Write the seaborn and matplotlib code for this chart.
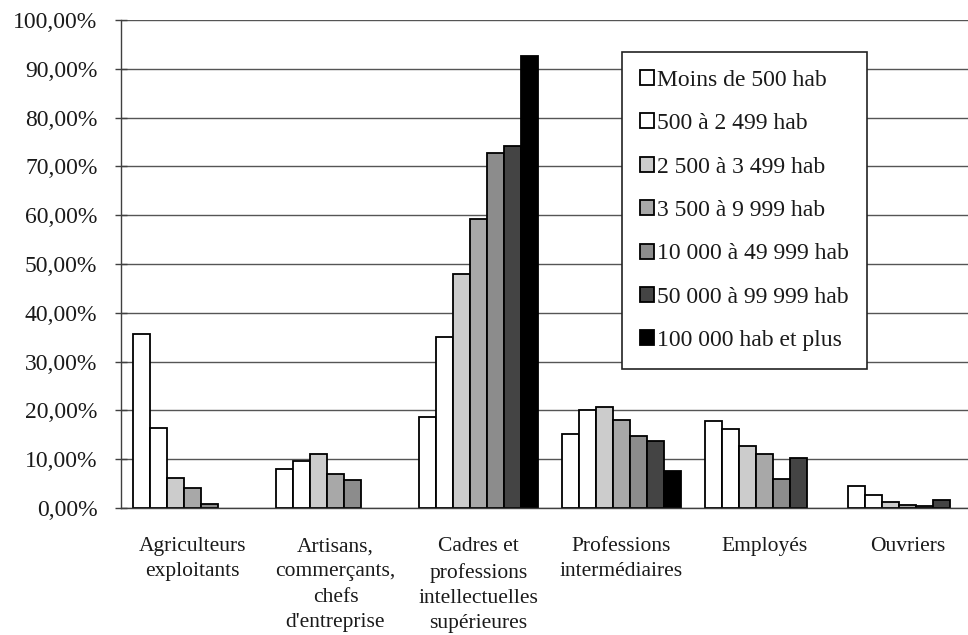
import numpy as np
import pandas as pd
import matplotlib
matplotlib.use("Agg")
import matplotlib.pyplot as plt
import seaborn as sns

# Data (share in %)
categories = [
    "Agriculteurs\nexploitants",
    "Artisans,\ncommerçants,\nchefs\nd'entreprise",
    "Cadres et\nprofessions\nintellectuelles\nsupérieures",
    "Professions\nintermédiaires",
    "Employés",
    "Ouvriers",
]
tailles = [
    "Moins de 500 hab",
    "500 à 2 499 hab",
    "2 500 à 3 499 hab",
    "3 500 à 9 999 hab",
    "10 000 à 49 999 hab",
    "50 000 à 99 999 hab",
    "100 000 hab et plus",
]
moins_500 = [35.6, 8.0, 18.7, 15.1, 17.9, 4.6]
de_500_2499 = [16.3, 9.6, 35.1, 20.1, 16.2, 2.6]
de_2500_3499 = [6.2, 11.1, 48.0, 20.7, 12.7, 1.2]
de_3500_9999 = [4.0, 6.9, 59.2, 18.1, 11.0, 0.7]
de_10000_49999 = [0.8, 5.7, 72.7, 14.7, 5.9, 0.35]
de_50000_99999 = [np.nan, np.nan, 74.2, 13.7, 10.3, 1.7]
plus_100000 = [np.nan, np.nan, 92.7, 7.5, np.nan, np.nan]

series = [moins_500, de_500_2499, de_2500_3499, de_3500_9999,
          de_10000_49999, de_50000_99999, plus_100000]
colors = ["#ffffff", "#ffffff", "#cccccc", "#a8a8a8", "#8c8c8c", "#444444", "#000000"]

rows = []
for taille, vals in zip(tailles, series):
    for cat, v in zip(categories, vals):
        rows.append({"categorie": cat, "taille": taille, "part": v})
df = pd.DataFrame(rows).dropna()

sns.set_style("white")
plt.rcParams["font.family"] = ["Liberation Serif", "DejaVu Serif"]
plt.rcParams["font.size"] = 17

fig = plt.figure(figsize=(9.68, 6.35), dpi=100)
ax = fig.add_axes([121 / 968, 1 - 508 / 635, (979 - 121) / 968, (508 - 20) / 635])

sns.barplot(data=df, x="categorie", y="part", hue="taille",
            order=categories, hue_order=tailles, palette=colors,
            width=0.83, errorbar=None, edgecolor="black", linewidth=1.3,
            ax=ax)

ax.set_ylim(0, 100)
ax.set_xlim(-0.5, len(categories) - 0.5)
yt = np.arange(0, 101, 10)
ax.set_yticks(yt)
ax.set_yticklabels([f"{v:.2f}%".replace(".", ",") for v in yt], color="#1a1a1a")
ax.yaxis.grid(True, color="#555555", linewidth=1)
ax.set_axisbelow(True)

ax.set_xticks(range(len(categories)))
ax.set_xticklabels(categories, color="#1a1a1a", fontsize=15.5, linespacing=1.45)
ax.set_xticks(np.arange(-0.5, len(categories), 1), minor=True)
ax.tick_params(axis="x", which="major", length=0, pad=21)
ax.tick_params(axis="x", which="minor", length=4, width=1, direction="out", color="#404040")
ax.tick_params(axis="y", length=8, width=1, direction="inout", color="#404040", pad=13, left=True)

ax.set_xlabel("")
ax.set_ylabel("")
for side in ["top", "right"]:
    ax.spines[side].set_visible(False)
for side in ["left", "bottom"]:
    ax.spines[side].set_color("#404040")
    ax.spines[side].set_linewidth(1)

handles, labels = ax.get_legend_handles_labels()
ax.get_legend().remove()
leg = ax.legend(handles, labels, loc="upper left",
                bbox_to_anchor=(622 / 968, 1 - 52 / 635), bbox_transform=fig.transFigure,
                borderaxespad=0, frameon=True, fancybox=False, framealpha=1,
                edgecolor="#222222", fontsize=17, handlelength=0.6, handleheight=0.6,
                handletextpad=0.15, labelspacing=0.95, borderpad=0.75)
leg.get_frame().set_linewidth(1.2)
for t in leg.get_texts():
    t.set_color("#1a1a1a")

fig.savefig("out.png", dpi=100)
